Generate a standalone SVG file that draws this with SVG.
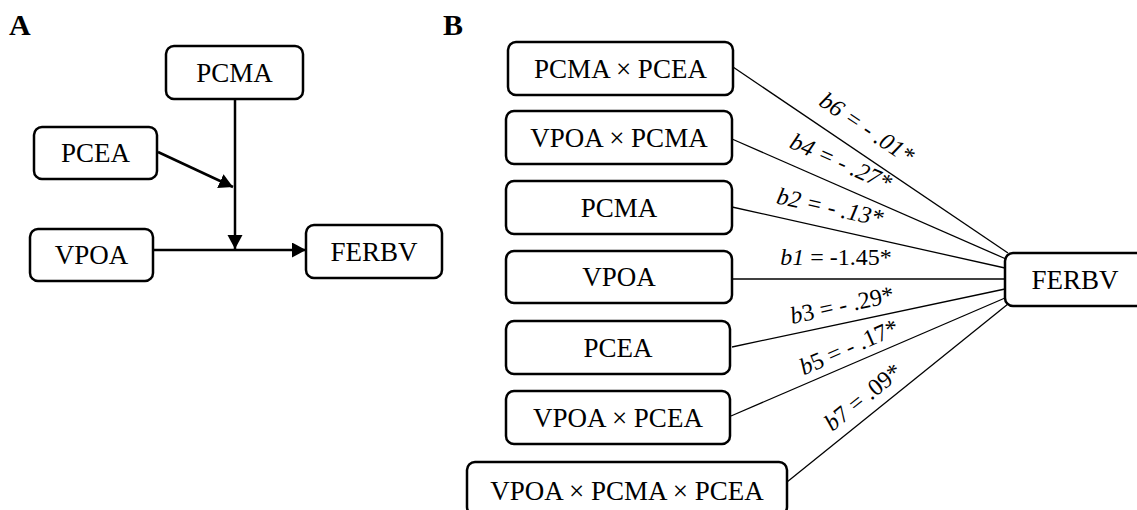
<svg xmlns="http://www.w3.org/2000/svg" width="1137" height="510" viewBox="0 0 1137 510">
<style>
.box{fill:#fff;stroke:#000;stroke-width:2.5}
.t{font-family:"Liberation Serif","Times New Roman",serif;font-size:27px;text-anchor:middle;fill:#000}
.lbl{font-family:"Liberation Serif","Times New Roman",serif;font-size:24px;text-anchor:middle;fill:#000}
.hd{font-family:"Liberation Serif","Times New Roman",serif;font-size:30px;font-weight:bold;fill:#000}
.ca{stroke:#000;stroke-width:2.5;fill:none}
.cb{stroke:#000;stroke-width:1.3;fill:none}
</style>
<defs>
<marker id="arr" markerUnits="userSpaceOnUse" markerWidth="15" markerHeight="16" refX="14" refY="7.5" orient="auto">
<path d="M0,0 L14,7.5 L0,15 z" fill="#000"/>
</marker>
</defs>
<text class="hd" x="9" y="35">A</text>
<text class="hd" x="443" y="35">B</text>
<g id="connectors">
<line class="ca" x1="235" y1="100" x2="235" y2="249" marker-end="url(#arr)"/>
<line class="ca" x1="158" y1="152" x2="233" y2="187" marker-end="url(#arr)"/>
<line class="ca" x1="154" y1="250" x2="306" y2="250" marker-end="url(#arr)"/>
<line class="cb" x1="733" y1="67" x2="1008" y2="253"/>
<line class="cb" x1="732" y1="139" x2="1006" y2="259"/>
<line class="cb" x1="732" y1="207" x2="1005" y2="268"/>
<line class="cb" x1="732" y1="279" x2="1005" y2="279"/>
<line class="cb" x1="732" y1="347" x2="1005" y2="289"/>
<line class="cb" x1="731" y1="416" x2="1005" y2="298"/>
<line class="cb" x1="787" y1="482" x2="1008" y2="304"/>
<text class="lbl" font-style="italic" transform="translate(867,128) rotate(33.9)" x="0" y="8">b6 = - .01*</text>
<text class="lbl" font-style="italic" transform="translate(841,162) rotate(24)" x="0" y="8">b4 = - .27*</text>
<text class="lbl" font-style="italic" transform="translate(830,207) rotate(12.4)" x="0" y="8">b2 = - .13*</text>
<text class="lbl" transform="translate(836,257) rotate(0)" x="0" y="8"><tspan font-style="italic">b1</tspan> = -1.45*</text>
<text class="lbl" transform="translate(842,305) rotate(-12.2)" x="0" y="8"><tspan font-style="italic">b</tspan>3 = - .29*</text>
<text class="lbl" transform="translate(849,347) rotate(-23.6)" x="0" y="8"><tspan font-style="italic">b</tspan>5 = - .17*</text>
<text class="lbl" transform="translate(863,397) rotate(-38.8)" x="0" y="8"><tspan font-style="italic">b</tspan>7 = .09*</text>
</g>
<g id="a-pcma"><rect class="box" x="166" y="46" width="137" height="53" rx="8"/><text class="t" x="234.5" y="81.5">PCMA</text></g>
<g id="a-pcea"><rect class="box" x="34" y="127" width="123" height="52" rx="8"/><text class="t" x="95.5" y="162">PCEA</text></g>
<g id="a-vpoa"><rect class="box" x="30" y="229" width="123" height="52" rx="8"/><text class="t" x="91.5" y="264">VPOA</text></g>
<g id="a-ferbv"><rect class="box" x="306" y="225" width="136" height="53" rx="8"/><text class="t" x="374" y="260.5">FERBV</text></g>
<g id="b-pcma-pcea"><rect class="box" x="508" y="42" width="225" height="53" rx="8"/><text class="t" x="620.5" y="77.5">PCMA × PCEA</text></g>
<g id="b-vpoa-pcma"><rect class="box" x="506" y="111" width="226" height="53" rx="8"/><text class="t" x="619" y="146.5">VPOA × PCMA</text></g>
<g id="b-pcma"><rect class="box" x="506" y="181" width="226" height="53" rx="8"/><text class="t" x="619" y="216.5">PCMA</text></g>
<g id="b-vpoa"><rect class="box" x="506" y="251" width="226" height="52" rx="8"/><text class="t" x="619" y="286">VPOA</text></g>
<g id="b-pcea"><rect class="box" x="506" y="321" width="224" height="53" rx="8"/><text class="t" x="618" y="356.5">PCEA</text></g>
<g id="b-vpoa-pcea"><rect class="box" x="506" y="391" width="224" height="53" rx="8"/><text class="t" x="618" y="426.5">VPOA × PCEA</text></g>
<g id="b-vpoa-pcma-pcea"><rect class="box" x="467" y="462" width="320" height="53" rx="8"/><text class="t" x="627" y="499.5">VPOA × PCMA × PCEA</text></g>
<g id="b-ferbv"><rect class="box" x="1005" y="253" width="140" height="53" rx="8"/><text class="t" x="1075" y="288.5">FERBV</text></g>
</svg>
